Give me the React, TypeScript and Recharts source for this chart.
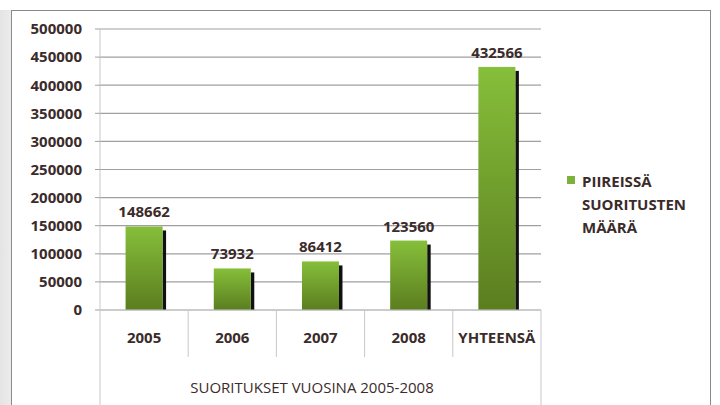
import React from 'react';
import { BarChart, Bar, XAxis, YAxis, CartesianGrid, LabelList, Customized } from 'recharts';

const categories = ['2005', '2006', '2007', '2008', 'YHTEENSÄ'];
const values = [148662, 73932, 86412, 123560, 432566];
const yTicks = [0, 50000, 100000, 150000, 200000, 250000, 300000, 350000, 400000, 450000, 500000];
const seriesName = ['PIIREISSÄ', 'SUORITUSTEN', 'MÄÄRÄ'];
const groupLabel = 'SUORITUKSET VUOSINA 2005-2008';

const data = categories.map((c, i) => ({ name: c, value: values[i] }));

const FONT = '"Open Sans", sans-serif';
const TEXT = '#3b2b2b';

const BarShape = (props: any) => {
  const { x, y, width, height } = props;
  if (!height || height <= 0) return null;
  return (
    <g>
      <rect x={x + width} y={y + 4} width={3.5} height={height - 4} fill="#111" />
      <rect x={x} y={y} width={width} height={height} fill="url(#barGrad)" />
    </g>
  );
};

const XTick = (props: any) => {
  const { x, payload, index, visibleTicksCount } = props;
  const half = payload && payload.offset ? payload.offset : 44.1;
  const top = 310;
  const isLast = index === (visibleTicksCount ? visibleTicksCount - 1 : 4);
  return (
    <g>
      <line x1={x - half} y1={top} x2={x - half} y2={index === 0 ? 405 : 357} stroke="#c8c8c8" strokeWidth={1} />
      {isLast && <line x1={x + half} y1={top} x2={x + half} y2={405} stroke="#c8c8c8" strokeWidth={1} />}
      <text x={x} y={343} textAnchor="middle" fill={TEXT} fontFamily={FONT} fontWeight={700} fontSize={15}>
        {payload.value}
      </text>
    </g>
  );
};

const Extras = () => (
  <g>
    <text x={312} y={393} textAnchor="middle" fill={TEXT} fontFamily={FONT} fontSize={15}>{groupLabel}</text>
    <rect x={567} y={176} width={8} height={8} fill="#7cb23a" />
    {seriesName.map((t, i) => (
      <text key={t} x={582} y={187 + i * 23} fill={TEXT} fontFamily={FONT} fontWeight={700} fontSize={15}>{t}</text>
    ))}
  </g>
);

export default function App() {
  return (
    <div style={{ position: 'absolute', left: 0, top: 0, width: 720, height: 405, background: '#fff', overflow: 'hidden' }}>
      <div style={{ position: 'absolute', left: 0, top: 10, width: 11, height: 395, background: 'linear-gradient(to right, #e4e4e4, #ececec)' }} />
      <div style={{ position: 'absolute', left: 11, top: 10, width: 700, height: 400, border: '1px solid #8a8a8a', boxSizing: 'border-box', background: '#fff' }} />
      <div style={{ position: 'absolute', left: 0, top: 0 }}>
        <BarChart width={720} height={405} data={data} margin={{ top: 29, right: 179, bottom: 0, left: 0 }} barCategoryGap="29%">
          <defs>
            <linearGradient id="barGrad" x1="0" y1="0" x2="0" y2="1">
              <stop offset="0%" stopColor="#86bf3a" />
              <stop offset="100%" stopColor="#5b7d1f" />
            </linearGradient>
          </defs>
          <CartesianGrid horizontal vertical={false} stroke="#a0a0a0" strokeWidth={1.2} />
          <YAxis
            width={100}
            domain={[0, 500000]}
            ticks={yTicks}
            interval={0}
            tickSize={5}
            tickMargin={13}
            axisLine={{ stroke: '#c8c8c8' }}
            tickLine={{ stroke: '#a0a0a0' }}
            tick={{ fill: TEXT, fontFamily: FONT, fontWeight: 700, fontSize: 15 }}
          />
          <XAxis dataKey="name" height={95} axisLine={{ stroke: '#c8c8c8' }} tickLine={false} tick={<XTick />} interval={0} />
          <Bar dataKey="value" shape={<BarShape />} isAnimationActive={false}>
            <LabelList dataKey="value" position="top" offset={9} fill={TEXT} fontFamily={FONT} fontWeight={700} fontSize={15} />
          </Bar>
          <Customized component={<Extras />} />
        </BarChart>
      </div>
    </div>
  );
}
